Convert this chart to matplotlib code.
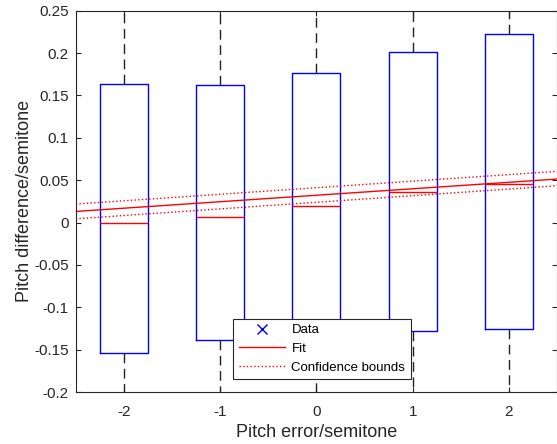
import matplotlib
matplotlib.use("Agg")
import matplotlib.pyplot as plt
from matplotlib.lines import Line2D

plt.rcParams['font.family'] = ['Liberation Sans', 'DejaVu Sans']

# pitch error categories and box statistics
pitch_err = [-2, -1, 0, 1, 2]
q1 = [-0.154, -0.139, -0.135, -0.128, -0.126]
med = [-0.001, 0.007, 0.020, 0.036, 0.046]
q3 = [0.163, 0.162, 0.176, 0.201, 0.222]
whis_lo = [-0.30, -0.30, -0.30, -0.30, -0.30]
whis_hi = [0.30, 0.30, 0.30, 0.30, 0.30]

# linear fit and its confidence bounds at the two ends of the axis
fit_x = [-2.5, 2.5]
fit_y = [0.0131, 0.0513]
upper_y = [0.0218, 0.0604]
lower_y = [0.0044, 0.0434]

axcol = '#262626'

fig = plt.figure(figsize=(5.57, 4.44), dpi=100)
ax = fig.add_axes([0.136, 0.117, 0.864, 0.859])

stats = []
for i in range(len(pitch_err)):
    stats.append({'med': med[i], 'q1': q1[i], 'q3': q3[i],
                  'whislo': whis_lo[i], 'whishi': whis_hi[i], 'fliers': []})

ax.bxp(stats, positions=pitch_err, widths=0.5, showfliers=False,
       boxprops=dict(color='blue', linewidth=1),
       medianprops=dict(color='red', linewidth=1),
       whiskerprops=dict(color='#222222', linewidth=1, linestyle=(0, (7, 4))),
       capprops=dict(visible=False))

ax.plot(fit_x, fit_y, color='red', linewidth=1)
ax.plot(fit_x, upper_y, color='red', linewidth=1, linestyle=':')
ax.plot(fit_x, lower_y, color='red', linewidth=1, linestyle=':')

ax.set_xlim(-2.5, 2.5)
ax.set_ylim(-0.2, 0.25)
ax.set_xticks(pitch_err)
ax.set_xticklabels([str(v) for v in pitch_err])
ax.set_yticks([-0.2, -0.15, -0.1, -0.05, 0, 0.05, 0.1, 0.15, 0.2, 0.25])
ax.set_yticklabels(['-0.2', '-0.15', '-0.1', '-0.05', '0', '0.05', '0.1',
                    '0.15', '0.2', '0.25'])
ax.tick_params(direction='in', length=3.5, width=0.8, colors=axcol,
               labelsize=11, top=True, right=True)
ax.tick_params(axis='x', pad=9)
ax.tick_params(axis='y', pad=5)
for s in ax.spines.values():
    s.set_color(axcol)
    s.set_linewidth(0.8)

ax.set_xlabel('Pitch error/semitone', fontsize=13, color=axcol, labelpad=4)
ax.set_ylabel('Pitch difference/semitone', fontsize=13, color=axcol, labelpad=1)

handles = [Line2D([], [], color='blue', marker='x', linestyle='none', markersize=7),
           Line2D([], [], color='red', linewidth=1),
           Line2D([], [], color='red', linewidth=1, linestyle=':')]
leg = ax.legend(handles, ['Data', 'Fit', 'Confidence bounds'],
                loc='lower left', bbox_to_anchor=(0.419, 0.146),
                bbox_transform=fig.transFigure, borderaxespad=0,
                fancybox=False, framealpha=1, edgecolor=axcol,
                fontsize=9.5, handlelength=3.5, handletextpad=0.5,
                labelspacing=0.5, borderpad=0.4)
leg.get_frame().set_linewidth(0.8)

fig.savefig('out.png', dpi=100)
